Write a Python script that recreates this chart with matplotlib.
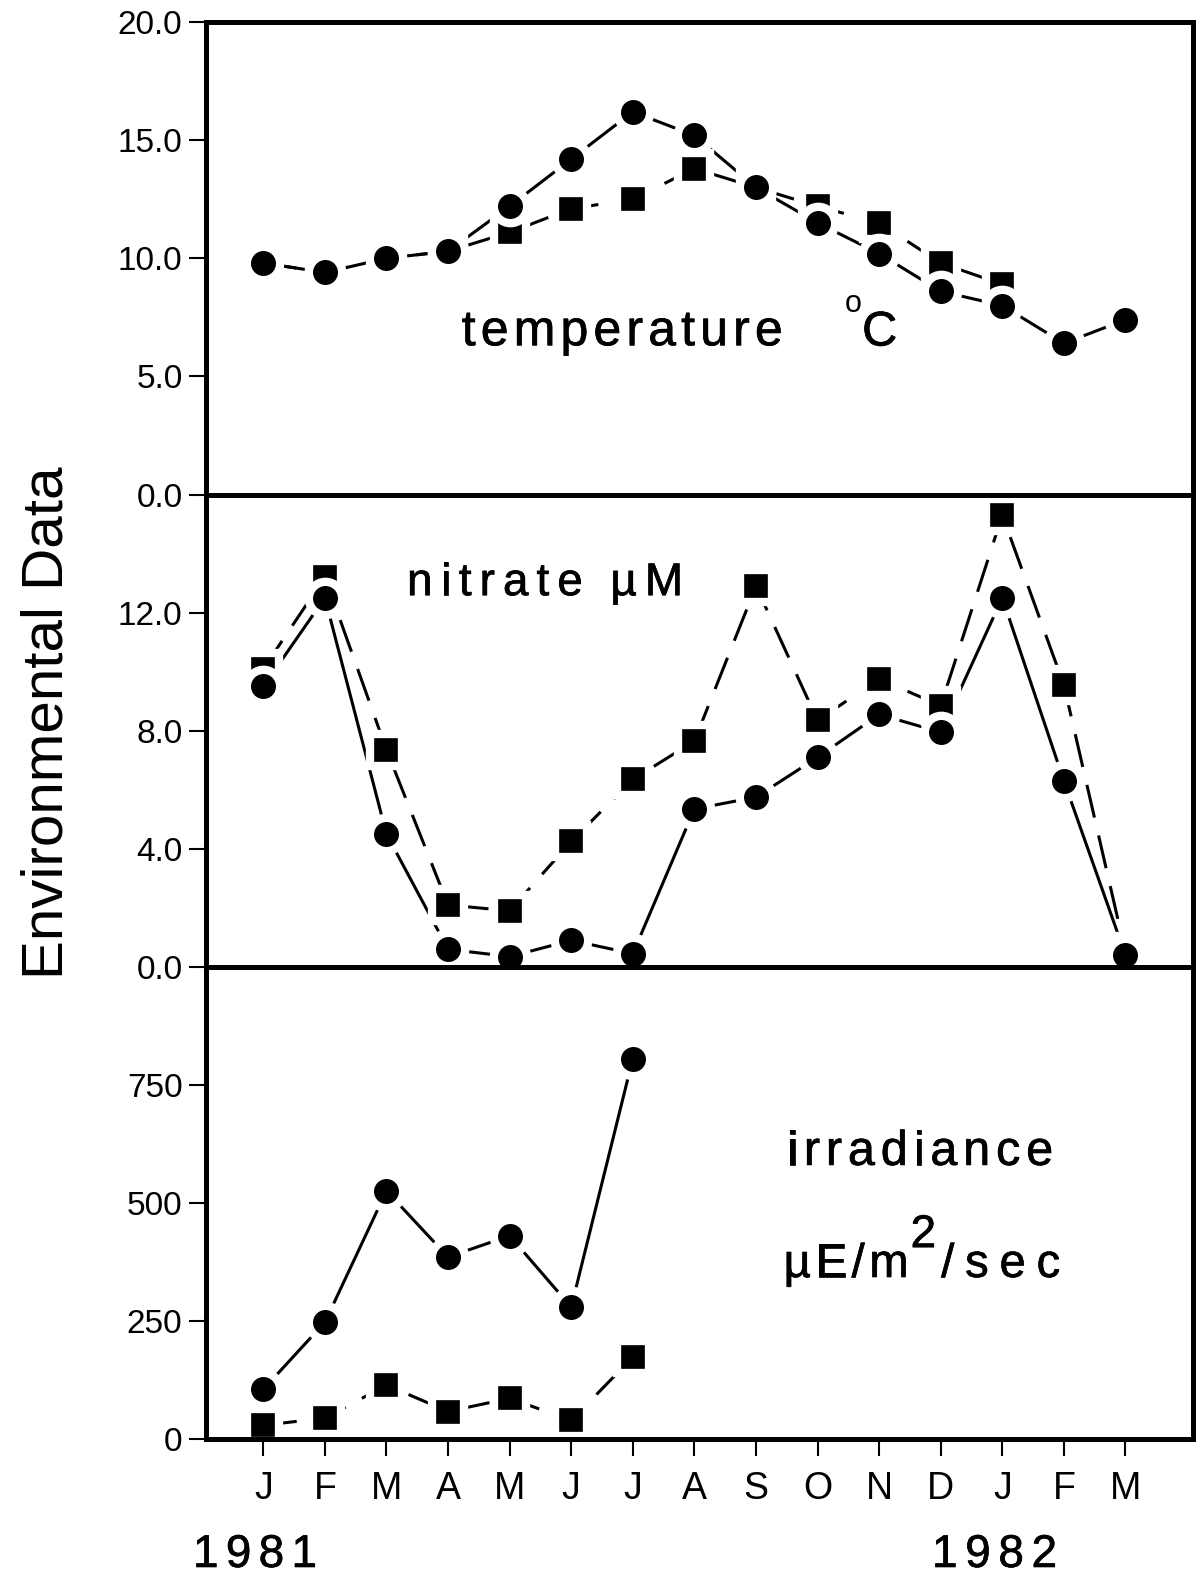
import numpy as np
import matplotlib
matplotlib.use('Agg')
import matplotlib.pyplot as plt
import matplotlib.patheffects as pe
from matplotlib.font_manager import FontProperties
from matplotlib.textpath import TextToPath
from matplotlib.transforms import offset_copy

FONT = 'Liberation Sans'
DPI = 100
plt.rcParams['font.family'] = [FONT, 'DejaVu Sans']

# data (x = month index, J 1981 .. M 1982)
months = ['J', 'F', 'M', 'A', 'M', 'J', 'J', 'A', 'S', 'O', 'N', 'D', 'J', 'F', 'M']

temp_circle = [9.8, 9.4, 10.0, 10.3, 12.2, 14.2, 16.2, 15.2, 13.0, 11.5, 10.2, 8.6, 8.0, 6.4, 7.4]
temp_square = [9.8, 9.4, 10.0, 10.3, 11.1, 12.1, 12.5, 13.8, 13.0, 12.2, 11.5, 9.8, 8.9, np.nan, np.nan]

nitrate_circle = [9.5, 12.5, 4.5, 0.6, 0.35, 0.9, 0.45, 5.35, 5.75, 7.1, 8.55, 7.95, 12.5, 6.3, 0.4]
nitrate_square = [10.1, 13.2, 7.35, 2.1, 1.9, 4.25, 6.35, 7.65, 12.9, 8.35, 9.75, 8.85, 15.3, 9.55, 0.5]

irr_circle = [106, 248, 526, 386, 431, 280, 806]
irr_square = [30, 45, 115, 59, 87, 40, 174]

temp_ticks = [0, 5, 10, 15, 20]
temp_labels = ['0.0', '5.0', '10.0', '15.0', '20.0']
nitrate_ticks = [0, 4, 8, 12]
nitrate_labels = ['0.0', '4.0', '8.0', '12.0']
irr_ticks = [0, 250, 500, 750]
irr_labels = ['0', '250', '500', '750']

fig = plt.figure(figsize=(11.98, 15.75), dpi=DPI)
t2p = TextToPath()
# the plotter lettering is a touch heavier than the regular face
heavy = [pe.withStroke(linewidth=0.5, foreground='black')]


def spaced_text(trans, x, y, s, size, width_px):
    # letter-spaced lettering like the old plotter; total width = width_px
    fp = FontProperties(family=FONT, size=size)
    widths = [0.25 * size if c == ' ' else t2p.get_text_width_height_descent(c, fp, ismath=False)[0]
              for c in s]
    track = (width_px * 72 / DPI - sum(widths)) / max(len(s) - 1, 1)
    off = 0
    for c, w in zip(s, widths):
        if c != ' ':
            fig.text(x, y, c, fontproperties=fp, ha='left', va='baseline', path_effects=heavy,
                     transform=offset_copy(trans, fig=fig, x=off, y=0, units='points'))
        off += w + track


def panel(ax, circ, sq, ylim, yticks, ylabels):
    xc = np.arange(len(circ))
    xs = np.arange(len(sq))
    ax.plot(xc, circ, color='black', lw=2.2, zorder=2)
    ax.plot(xs, sq, color='black', lw=2.2, dashes=(11, 6), zorder=2)
    ax.plot(xs, sq, ls='none', marker='s', ms=23, mfc='black', mec='white', mew=6, zorder=3)
    ax.plot(xc, circ, ls='none', marker='o', ms=24, mfc='black', mec='white', mew=6, zorder=4)
    for sp in ax.spines.values():
        sp.set_linewidth(3.6)
        sp.set_zorder(5)
    ax.set_xlim(-0.93, 15.1)
    ax.set_ylim(*ylim)
    ax.set_yticks(yticks, ylabels)
    ax.tick_params(axis='y', direction='out', length=12, width=1.5, labelsize=24, pad=5)
    ax.tick_params(axis='x', bottom=False, labelbottom=False)


left, width = 0.172, 0.824
h = 0.29996
ax3 = fig.add_axes([left, 0.0861, width, h])
ax2 = fig.add_axes([left, 0.0861 + h, width, h])
ax1 = fig.add_axes([left, 0.0861 + 2 * h, width, h])

panel(ax1, temp_circle, temp_square, (0, 20), temp_ticks, temp_labels)
panel(ax2, nitrate_circle, nitrate_square, (0, 16), nitrate_ticks, nitrate_labels)
panel(ax3, irr_circle, irr_square, (0, 1000), irr_ticks, irr_labels)

ax3.set_xticks(range(len(months)), months)
ax3.tick_params(axis='x', bottom=True, labelbottom=True, direction='out',
                length=12, width=1.5, labelsize=27, pad=11)

# panel captions
spaced_text(ax1.transAxes, 0.259, 0.316, 'temperature', 36, 321)
fig.text(0.6474, 0.3855, 'o', fontsize=22, ha='left', va='baseline', transform=ax1.transAxes)
fig.text(0.6646, 0.3154, 'C', fontsize=35, ha='left', va='baseline', transform=ax1.transAxes,
         path_effects=heavy)

spaced_text(ax2.transAxes, 0.2036, 0.787, 'nitrate µM', 33, 276)

spaced_text(ax3.transAxes, 0.5887, 0.581, 'irradiance', 35, 266)
spaced_text(ax3.transAxes, 0.5851, 0.3438, 'µE/m', 34, 125)
fig.text(0.7137, 0.407, '2', fontsize=33, ha='left', va='baseline', transform=ax3.transAxes,
         path_effects=heavy)
spaced_text(ax3.transAxes, 0.7447, 0.3438, '/sec', 34, 119)

# years and axis title
spaced_text(fig.transFigure, 0.1611, 0.0051, '1981', 33, 124)
spaced_text(fig.transFigure, 0.778, 0.0051, '1982', 33, 125)
fig.text(0.052, 0.541, 'Environmental Data', fontsize=42, rotation=90,
         rotation_mode='anchor', ha='center', va='baseline')

fig.savefig('out.png', dpi=DPI)
